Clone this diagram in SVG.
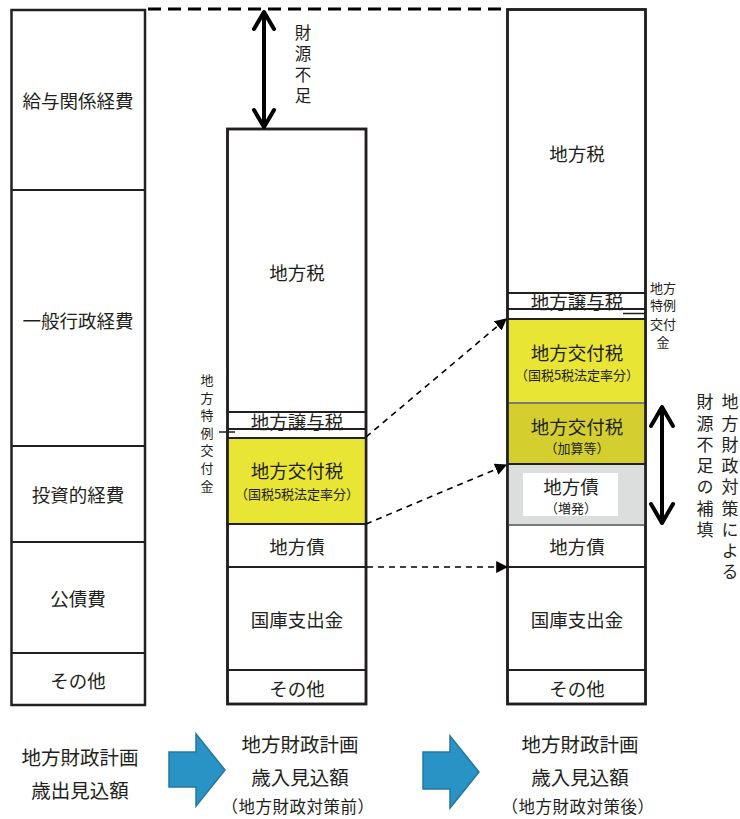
<svg xmlns="http://www.w3.org/2000/svg" width="740" height="819" viewBox="0 0 740 819">
<style>
text{font-family:"Noto Sans CJK JP","Noto Sans CJK SC",sans-serif;fill:#231f20;text-anchor:middle;dominant-baseline:central}
.box{fill:#fff;stroke:#231f20;stroke-width:2.5}
.div{stroke:#231f20;stroke-width:2.2;fill:none}
.l{font-size:18.5px}
.s{font-size:13px}
.v{font-size:13px}
.b{font-size:19.5px}
.p{font-size:16.5px}
.r{font-size:17px}
.vt{writing-mode:vertical-rl;text-anchor:start;dominant-baseline:auto}
.dash{stroke:#000;stroke-width:1.6;stroke-dasharray:6 5;fill:none}
.dbl{stroke:#000;stroke-width:4;fill:none;stroke-linecap:round;stroke-linejoin:round}
.blk{fill:#2a93c6;stroke:#2577a0;stroke-width:1.5}
</style>
<defs>
<marker id="ah" viewBox="0 0 10 10" refX="9" refY="5" markerWidth="12" markerHeight="12" markerUnits="userSpaceOnUse" orient="auto"><path d="M0,0 L10,5 L0,10 z" fill="#000"/></marker>
</defs>

<g id="expenditure">
<rect class="box" x="11.5" y="10" width="133.5" height="695"/>
<line class="div" x1="11.5" y1="190" x2="145" y2="190"/>
<line class="div" x1="11.5" y1="446" x2="145" y2="446"/>
<line class="div" x1="11.5" y1="542" x2="145" y2="542"/>
<line class="div" x1="11.5" y1="653" x2="145" y2="653"/>
<text class="l" x="78" y="100">給与関係経費</text>
<text class="l" x="78" y="320">一般行政経費</text>
<text class="l" x="78" y="494">投資的経費</text>
<text class="l" x="78" y="598">公債費</text>
<text class="l" x="78" y="680">その他</text>
</g>

<g id="revenue-before">
<rect class="box" x="227.5" y="129" width="138.5" height="575"/>
<rect x="228.5" y="438" width="136.5" height="86" fill="#e8e534"/>
<line class="div" x1="227.5" y1="412" x2="366" y2="412"/>
<line class="div" x1="227.5" y1="429" x2="366" y2="429"/>
<line class="div" x1="227.5" y1="438" x2="366" y2="438"/>
<line class="div" x1="227.5" y1="524" x2="366" y2="524"/>
<line class="div" x1="227.5" y1="567" x2="366" y2="567"/>
<line class="div" x1="227.5" y1="670" x2="366" y2="670"/>
<rect x="227.5" y="129" width="138.5" height="575" fill="none" stroke="#231f20" stroke-width="2.5"/>
<line stroke="#231f20" stroke-width="1.5" x1="219" y1="432" x2="235" y2="432"/>
<text class="l" x="297" y="272">地方税</text>
<text class="l" x="297" y="421">地方譲与税</text>
<text class="l" x="297" y="470">地方交付税</text>
<text class="s" x="297" y="493">（国税5税法定率分）</text>
<text class="l" x="297" y="546">地方債</text>
<text class="l" x="297" y="619">国庫支出金</text>
<text class="l" x="297" y="688">その他</text>
<text class="v vt" x="207" y="373.5" letter-spacing="4.6">地方特例交付金</text>
</g>

<g id="revenue-after">
<rect class="box" x="507.5" y="9.5" width="138" height="694.5"/>
<rect x="508.5" y="319" width="136" height="84" fill="#e8e534"/>
<rect x="508.5" y="403" width="136" height="61" fill="#d4cf2e"/>
<rect x="508.5" y="464" width="136" height="61" fill="#dcdddd"/>
<rect x="523" y="473" width="95" height="43" fill="#fff"/>
<line class="div" x1="507.5" y1="293" x2="645.5" y2="293"/>
<line class="div" x1="507.5" y1="309" x2="645.5" y2="309"/>
<line class="div" x1="507.5" y1="319" x2="645.5" y2="319"/>
<line x1="507.5" y1="403" x2="645.5" y2="403" stroke="#7a7a7a" stroke-width="2"/>
<line class="div" x1="507.5" y1="464" x2="645.5" y2="464"/>
<line x1="507.5" y1="525" x2="645.5" y2="525" stroke="#7a7a7a" stroke-width="2"/>
<line class="div" x1="507.5" y1="567" x2="645.5" y2="567"/>
<line class="div" x1="507.5" y1="670" x2="645.5" y2="670"/>
<rect x="507.5" y="9.5" width="138" height="694.5" fill="none" stroke="#231f20" stroke-width="2.5"/>
<line stroke="#231f20" stroke-width="1.5" x1="623" y1="313.5" x2="645" y2="313.5"/>
<text class="l" x="577" y="153">地方税</text>
<text class="l" x="577" y="301">地方譲与税</text>
<text class="l" x="577" y="352">地方交付税</text>
<text class="s" x="577" y="374">（国税5税法定率分）</text>
<text class="l" x="577" y="426">地方交付税</text>
<text class="s" x="577" y="447">（加算等）</text>
<text class="l" x="571" y="486">地方債</text>
<text class="s" x="571" y="507">（増発）</text>
<text class="l" x="577" y="546">地方債</text>
<text class="l" x="577" y="619">国庫支出金</text>
<text class="l" x="577" y="688">その他</text>
<text class="v" x="663" y="287">地方<tspan x="663" dy="17">特例</tspan><tspan x="663" dy="19">交付</tspan><tspan x="663" dy="18">金</tspan></text>
</g>

<g id="shortfall-top">
<line class="dbl" x1="264" y1="13" x2="264" y2="126"/>
<polyline class="dbl" points="254,29 264,12 274,29"/>
<polyline class="dbl" points="254,110 264,127 274,110"/>
<text class="p vt" x="303" y="24" letter-spacing="4.5">財源不足</text>
</g>

<g id="shortfall-right">
<line class="dbl" x1="662" y1="408" x2="662" y2="522"/>
<polyline class="dbl" points="651,426 662,407 673,426"/>
<polyline class="dbl" points="651,504 662,523 673,504"/>
<text class="r vt" x="705" y="393.5" letter-spacing="4.25">財源不足の補填</text>
<text class="r vt" x="730" y="393.5" letter-spacing="4.25">地方財政対策による</text>
</g>

<g id="connectors">
<line x1="148" y1="9" x2="506" y2="9" stroke="#000" stroke-width="3" stroke-dasharray="13 7"/>
<line class="dash" x1="366" y1="437" x2="506" y2="319" marker-end="url(#ah)"/>
<line class="dash" x1="366" y1="524" x2="506" y2="465" marker-end="url(#ah)"/>
<line class="dash" x1="367" y1="567" x2="507" y2="567" marker-end="url(#ah)"/>
</g>

<g id="arrow1"><path class="blk" d="M169,752 H196 V734 L225,770 L196,806 V787 H169 Z"/></g>
<g id="arrow2"><path class="blk" d="M423,752 H450 V736 L479,772 L450,808 V789 H423 Z"/></g>

<g id="labels">
<text class="b" x="80" y="756">地方財政計画</text>
<text class="b" x="80" y="789">歳出見込額</text>
<text class="b" x="300" y="743">地方財政計画</text>
<text class="b" x="300" y="776">歳入見込額</text>
<text class="p" x="298" y="806" letter-spacing="0.5">（地方財政対策前）</text>
<text class="b" x="580" y="743">地方財政計画</text>
<text class="b" x="580" y="776">歳入見込額</text>
<text class="p" x="578" y="806" letter-spacing="0.5">（地方財政対策後）</text>
</g>
</svg>
